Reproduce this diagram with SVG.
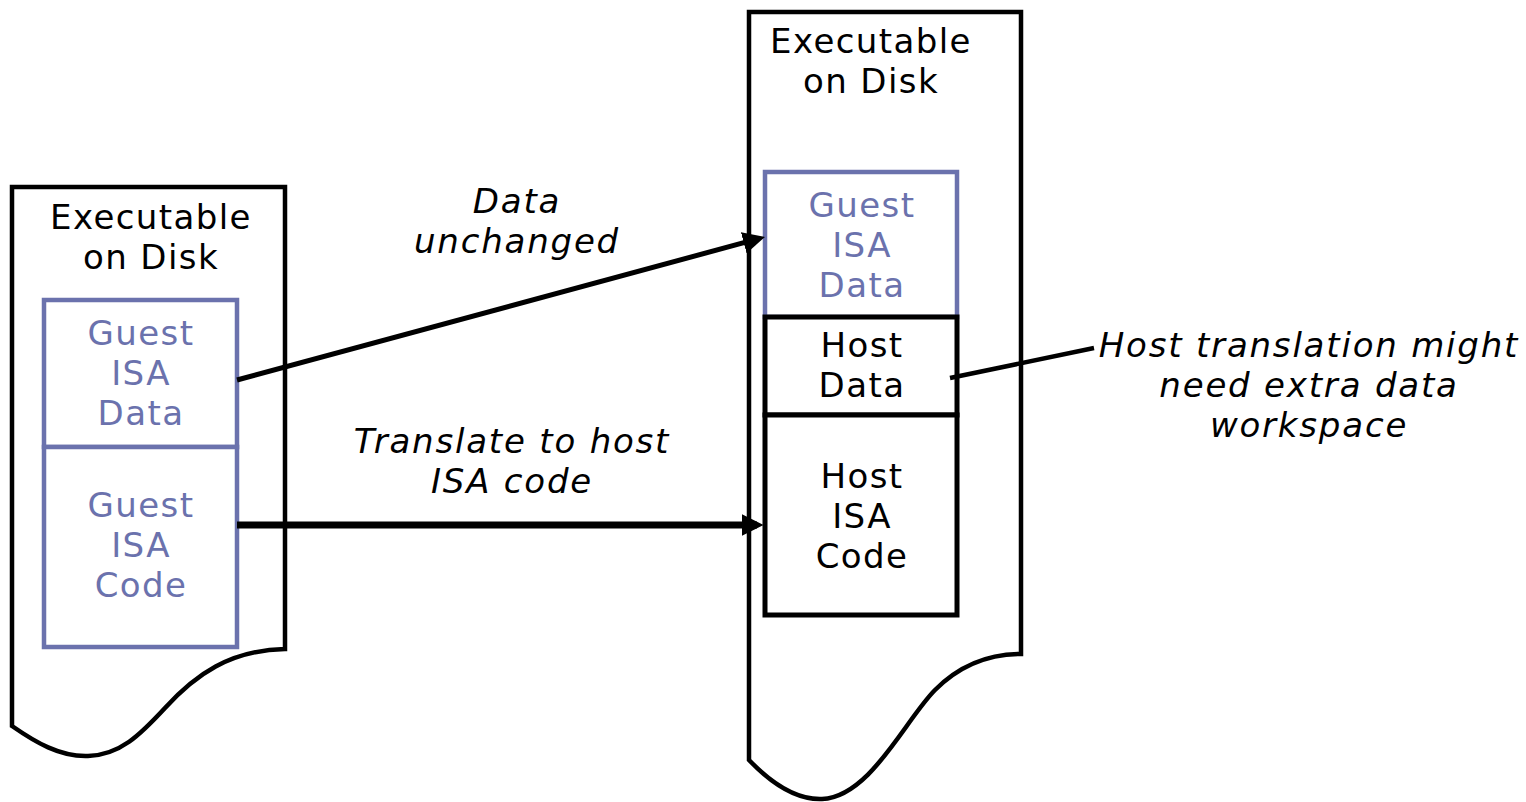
<svg xmlns="http://www.w3.org/2000/svg" width="1526" height="802" viewBox="0 0 1526 802">
<defs>
<style>
.doc{fill:#fff;stroke:#000;stroke-width:4.5;stroke-linejoin:miter}
.gbox{fill:#fff;stroke:#6b72ad;stroke-width:4.5}
.hbox{fill:#fff;stroke:#000;stroke-width:5}
.t{font-family:"DejaVu Sans",Verdana,sans-serif;font-size:34px;text-anchor:middle;fill:#000;letter-spacing:1.4px}
.g{fill:#6b72ad}
.i{font-style:italic;letter-spacing:1.8px}
.conn{stroke:#000;fill:none}
</style>
<marker id="ah" viewBox="0 0 10 10" markerUnits="userSpaceOnUse" markerWidth="22" markerHeight="22" refX="7" refY="5" orient="auto">
<path d="M0,0 L10,5 L0,10 z" fill="#000"/>
</marker>
</defs>
<rect width="1526" height="802" fill="#fff"/>

<g id="left-doc">
<path class="doc" d="M12,726 L12,187 L285,187 L285,649 C230,650 195,675 165,708 C140,735 120,755 88,756 C60,757 35,742 12,726 Z"/>
<text class="t" x="151" y="229">Executable</text>
<text class="t" x="151" y="269">on Disk</text>
</g>
<g id="left-guest-data">
<rect class="gbox" x="44" y="300" width="193" height="147"/>
<text class="t g" x="141" y="345">Guest</text>
<text class="t g" x="141" y="385">ISA</text>
<text class="t g" x="141" y="425">Data</text>
</g>
<g id="left-guest-code">
<rect class="gbox" x="44" y="447" width="193" height="200"/>
<text class="t g" x="141" y="517">Guest</text>
<text class="t g" x="141" y="557">ISA</text>
<text class="t g" x="141" y="597">Code</text>
</g>

<g id="right-doc">
<path class="doc" d="M749,760 L749,12 L1021,12 L1021,654 C990,654 960,665 935,690 C905,720 870,797 822,799 C795,800 770,782 749,760 Z"/>
<text class="t" x="871" y="53">Executable</text>
<text class="t" x="871" y="93">on Disk</text>
</g>
<g id="right-guest-data">
<rect class="gbox" x="765" y="172" width="192" height="145"/>
<text class="t g" x="862" y="217">Guest</text>
<text class="t g" x="862" y="257">ISA</text>
<text class="t g" x="862" y="297">Data</text>
</g>
<g id="host-data">
<rect class="hbox" x="765" y="317" width="192" height="98"/>
<text class="t" x="862" y="357">Host</text>
<text class="t" x="862" y="397">Data</text>
</g>
<g id="host-code">
<rect class="hbox" x="765" y="415" width="192" height="200"/>
<text class="t" x="862" y="488">Host</text>
<text class="t" x="862" y="528">ISA</text>
<text class="t" x="862" y="568">Code</text>
</g>

<g id="connectors">
<line class="conn" x1="237" y1="380" x2="758.6" y2="238.7" stroke-width="5" marker-end="url(#ah)"/>
<line class="conn" x1="237" y1="525" x2="757" y2="525" stroke-width="7" marker-end="url(#ah)"/>
<line class="conn" x1="950" y1="378" x2="1094" y2="348" stroke-width="4.5"/>
</g>

<g id="labels">
<text class="t i" x="517" y="213">Data</text>
<text class="t i" x="517" y="253">unchanged</text>
<text class="t i" x="512" y="453">Translate to host</text>
<text class="t i" x="512" y="493">ISA code</text>
<text class="t i" x="1309" y="357">Host translation might</text>
<text class="t i" x="1309" y="397">need extra data</text>
<text class="t i" x="1309" y="437">workspace</text>
</g>
</svg>
